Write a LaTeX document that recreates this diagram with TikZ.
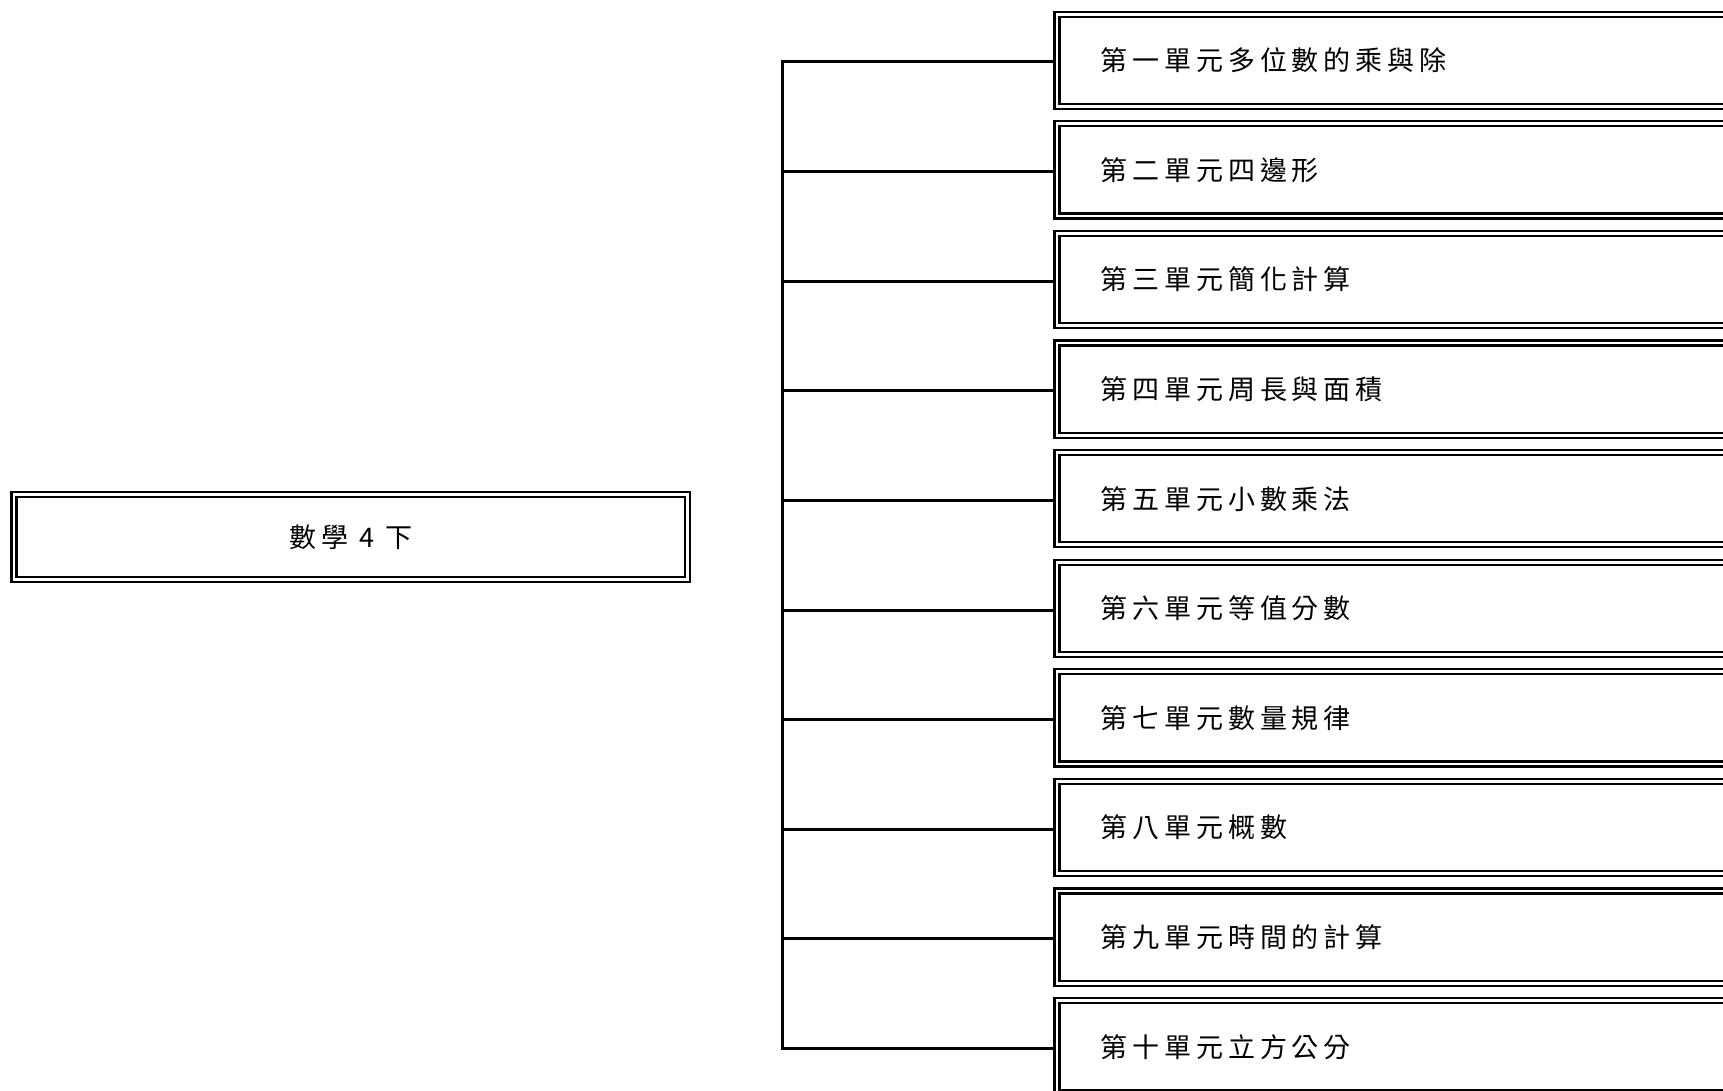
\documentclass[tikz,border=0pt]{standalone}
\usepackage{fontspec}
\newfontfamily\cjk{Noto Sans CJK TC}[LetterSpace=18]

\begin{document}
\begin{tikzpicture}[x=1pt,y=-1pt,
    unitbox/.style={draw, line width=2.3pt, double=white, double distance=2.7pt, anchor=west,
        minimum height=92.2pt, text width=700pt, inner xsep=44pt, font=\cjk\fontsize{27}{32}\selectfont},
    rootbox/.style={draw, line width=2.3pt, double=white, double distance=2.7pt,
        minimum width=673.6pt, minimum height=84.4pt, inner sep=0pt, font=\cjk\fontsize{27}{32}\selectfont},
    link/.style={line width=3pt}]
    \useasboundingbox (0,0) rectangle (1723,1091);
    \clip (0,0) rectangle (1723,1091);

    \node[rootbox] (root) at (350.7,537) {數學 4 下};

    \coordinate (j1) at (782,62);
    \coordinate (j2) at (782,171.6);
    \coordinate (j3) at (782,281.2);
    \coordinate (j4) at (782,390.8);
    \coordinate (j5) at (782,500.4);
    \coordinate (j6) at (782,610);
    \coordinate (j7) at (782,719.6);
    \coordinate (j8) at (782,829.2);
    \coordinate (j9) at (782,938.8);
    \coordinate (j10) at (782,1048.4);

    \node[unitbox] (u1) at (1055.7,60.3) {第一單元多位數的乘與除};
    \node[unitbox] (u2) at (1055.7,169.9) {第二單元四邊形};
    \node[unitbox] (u3) at (1055.7,279.5) {第三單元簡化計算};
    \node[unitbox] (u4) at (1055.7,389.1) {第四單元周長與面積};
    \node[unitbox] (u5) at (1055.7,498.7) {第五單元小數乘法};
    \node[unitbox] (u6) at (1055.7,608.3) {第六單元等值分數};
    \node[unitbox] (u7) at (1055.7,717.9) {第七單元數量規律};
    \node[unitbox] (u8) at (1055.7,827.5) {第八單元概數};
    \node[unitbox] (u9) at (1055.7,937.1) {第九單元時間的計算};
    \node[unitbox] (u10) at (1055.7,1046.7) {第十單元立方公分};

    % trunk with first and last branch
    \draw[link, shorten <=2.5pt, shorten >=2.5pt] (j1 -| u1.west) -- (j1) -- (j10) -- (j10 -| u10.west);
    \draw[link, shorten >=2.5pt] (j2) -- (j2 -| u2.west);
    \draw[link, shorten >=2.5pt] (j3) -- (j3 -| u3.west);
    \draw[link, shorten >=2.5pt] (j4) -- (j4 -| u4.west);
    \draw[link, shorten >=2.5pt] (j5) -- (j5 -| u5.west);
    \draw[link, shorten >=2.5pt] (j6) -- (j6 -| u6.west);
    \draw[link, shorten >=2.5pt] (j7) -- (j7 -| u7.west);
    \draw[link, shorten >=2.5pt] (j8) -- (j8 -| u8.west);
    \draw[link, shorten >=2.5pt] (j9) -- (j9 -| u9.west);
\end{tikzpicture}
\end{document}
